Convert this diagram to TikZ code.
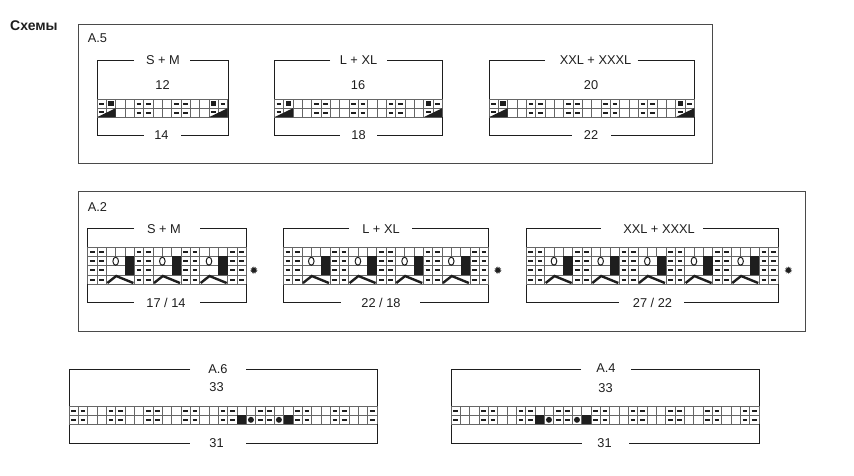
\documentclass[tikz,border=0pt]{standalone}
\usepackage{fontspec}
\setmainfont{Liberation Sans}
\definecolor{ink}{HTML}{1E1E1E}
\definecolor{gridc}{HTML}{666666}
\definecolor{framec}{HTML}{4A4A4A}
\tikzset{
  framebox/.style={draw=framec,line width=1pt},
  bracketline/.style={draw=ink,line width=1pt},
  gridline/.style={draw=gridc,line width=.65pt},
  dashmark/.style={draw=ink,line width=1.95pt},
  blackfill/.style={fill=ink,draw=none},
  oval/.style={draw=ink,line width=1pt,fill=white},
  chevron/.style={draw=ink,line width=2.4pt},
  lab/.style={inner sep=0pt,text=ink,font=\fontsize{12.8}{14}\selectfont},
  title/.style={inner sep=0pt,text=ink,font=\fontsize{14}{15}\selectfont\bfseries},
  star/.style={inner sep=0pt,text=ink,font=\fontsize{10.5}{11}\selectfont}
}
\newfontfamily\symfont{DejaVu Sans}
\def\cw{9.33}
% bracket: x0 x1 ytop ybot topgapL topgapR botgapL botgapR
\newcommand\brk[8]{%
  \draw[bracketline] (#5,#3) -- (#1,#3) -- (#1,#4) -- (#7,#4);
  \draw[bracketline] (#6,#3) -- (#2,#3) -- (#2,#4) -- (#8,#4);
}
% grid: x0 ncols y0 nrows rowh
\newcommand\fullgrid[5]{%
  \foreach \k in {0,...,#2}{\draw[gridline] ({#1+\k*\cw},#3) -- ({#1+\k*\cw},{#3+#4*#5});}
  \foreach \r in {0,...,#4}{\draw[gridline] (#1,{#3+\r*#5}) -- ({#1+#2*\cw},{#3+\r*#5});}
}
% dashes: x0 ycentre list
\newcommand\dsh[3]{%
  \foreach \k in {#3}{\draw[dashmark] ({#1+(\k+.5)*\cw-2.4},#2) -- ({#1+(\k+.5)*\cw+2.4},#2);}
}
% A.5-type chart: x0 ncols, dash groups
\newcommand\chartA[3]{%
  \fullgrid{#1}{#2}{99}{2}{9.1}
  \dsh{#1}{103.6}{0,#3,\numexpr#2-1\relax}
  \dsh{#1}{112.7}{#3}
  \dsh{#1}{111.8}{0,\numexpr#2-2\relax}
  \fill[blackfill] ({#1+1.5*\cw-2.6},101) rectangle ({#1+1.5*\cw+2.6},106.2);
  \fill[blackfill] ({#1+(#2-1.5)*\cw-2.6},101) rectangle ({#1+(#2-1.5)*\cw+2.6},106.2);
  \fill[blackfill] (#1,117.2) -- ({#1+2*\cw},108.2) -- ({#1+2*\cw},117.2) -- cycle;
  \fill[blackfill] ({#1+(#2-2)*\cw},117.2) -- ({#1+#2*\cw},108.2) -- ({#1+#2*\cw},117.2) -- cycle;
}
% A.2-type chart: x0 repeats
\newcommand\chartB[2]{%
  \pgfmathtruncatemacro\nc{5*#2+2}
  \foreach \r in {0,...,4}{\draw[gridline] (#1,{247.4+\r*9.2}) -- ({#1+\nc*\cw},{247.4+\r*9.2});}
  \foreach \i in {0,...,#2}{%
    \foreach \o in {0,1,2}{\draw[gridline] ({#1+(5*\i+\o)*\cw},247.4) -- ({#1+(5*\i+\o)*\cw},284.2);}
    \foreach \r in {0,1,2,3}{%
      \draw[dashmark] ({#1+(5*\i+.5)*\cw-2.4},{252+\r*9.2}) -- ({#1+(5*\i+.5)*\cw+2.4},{252+\r*9.2});
      \draw[dashmark] ({#1+(5*\i+1.5)*\cw-2.4},{252+\r*9.2}) -- ({#1+(5*\i+1.5)*\cw+2.4},{252+\r*9.2});
    }
  }
  \pgfmathtruncatemacro\lastrep{#2-1}
  \foreach \i in {0,...,\lastrep}{%
    \foreach \o in {3,4}{\draw[gridline] ({#1+(5*\i+\o)*\cw},247.4) -- ({#1+(5*\i+\o)*\cw},256.6);}
    \fill[blackfill] ({#1+(5*\i+4)*\cw},256.4) rectangle ({#1+(5*\i+5)*\cw},275.2);
    \draw[oval] ({#1+(5*\i+3)*\cw},261.2) ellipse [x radius=2.8,y radius=4];
    \draw[chevron] ({#1+(5*\i+2)*\cw+1},283) -- ({#1+(5*\i+3)*\cw+.5},276) -- ({#1+(5*\i+5)*\cw-1},283);
  }
}
% A.6-type chart: x0 row0 dashes, row1 dashes, black, dots
\newcommand\chartC[5]{%
  \fullgrid{#1}{33}{406}{2}{9.2}
  \dsh{#1}{410.6}{#2}
  \dsh{#1}{419.8}{#3}
  \foreach \k in {#4}{\fill[blackfill] ({#1+\k*\cw},415.2) rectangle ({#1+(\k+1)*\cw},424.4);}
  \foreach \k in {#5}{\fill[ink] ({#1+(\k+.5)*\cw},419.8) circle [radius=3];}
}
\begin{document}
\begin{tikzpicture}[x=1pt,y=-1pt]
\useasboundingbox (0,0) rectangle (854,475);
\node[title,anchor=west] (title) at (10,26) {Схемы};

% A.5
\draw[framebox] (78,24) rectangle (712,163);
\node[lab] (a5) at (97.5,38) {A.5};
\brk{97}{228}{60}{135}{134}{190}{144}{181}
\node[lab] (a5t1) at (163,60.5) {S + M};
\node[lab] (a5m1) at (162.5,85) {12};
\node[lab] (a5b1) at (161.5,135) {14};
\chartA{97}{14}{4,5,8,9}
\brk{274.3}{442.3}{60}{135}{330}{387}{340}{377}
\node[lab] (a5t2) at (358.5,60.5) {L + XL};
\node[lab] (a5m2) at (358,85) {16};
\node[lab] (a5b2) at (358.5,135) {18};
\chartA{274.3}{18}{4,5,8,9,12,13}
\brk{489}{694}{60.5}{135}{545}{637.7}{572}{610.7}
\node[lab] (a5t3) at (595.5,60.5) {XXL + XXXL};
\node[lab] (a5m3) at (591,85) {20};
\node[lab] (a5b3) at (591,135) {22};
\chartA{489}{22}{4,5,8,9,12,13,16,17}

% A.2
\draw[framebox] (78,191) rectangle (805.5,331);
\node[lab] (a2) at (97.5,207) {A.2};
\brk{87.7}{246.3}{228.3}{302.7}{134}{200}{134}{200}
\node[lab] (a2t1) at (164,229) {S + M};
\node[lab] (a2b1) at (166,303) {17 / 14};
\chartB{87.7}{3}
\node[star] (s1) at (254,271) {\symfont ✹};
\brk{283.3}{488.6}{228.3}{302.7}{349}{412}{341}{420}
\node[lab] (a2t2) at (381,229) {L + XL};
\node[lab] (a2b2) at (381,303) {22 / 18};
\chartB{283.3}{4}
\node[star] (s2) at (498,271) {\symfont ✹};
\brk{526}{778}{228.3}{302.7}{600.7}{703}{619}{684}
\node[lab] (a2t3) at (659,229) {XXL + XXXL};
\node[lab] (a2b3) at (652.5,303) {27 / 22};
\chartB{526}{5}
\node[star] (s3) at (788.5,271) {\symfont ✹};

% A.6
\brk{69}{377.5}{369}{443}{190}{246}{190}{246}
\node[lab] (a6) at (218,369.5) {A.6};
\node[lab] (a6m) at (216.5,387) {33};
\node[lab] (a6b) at (216.5,443) {31};
\chartC{69}{0,1,4,5,8,9,12,13,16,17,20,21,24,25,28,29,32}{0,1,4,5,8,9,12,13,16,17,20,21,24,25,28,29,32}{18,23}{19,22}

% A.4
\brk{451}{759.5}{369}{443}{581}{631}{582}{629}
\node[lab] (a4) at (606,368.5) {A.4};
\node[lab] (a4m) at (605.5,388) {33};
\node[lab] (a4b) at (604.5,443) {31};
\chartC{451}{0,3,4,7,8,11,12,15,16,19,20,23,24,27,28,31,32}{0,3,4,7,8,11,12,15,16,19,20,23,24,27,28,31,32}{9,14}{10,13}
\end{tikzpicture}
\end{document}
